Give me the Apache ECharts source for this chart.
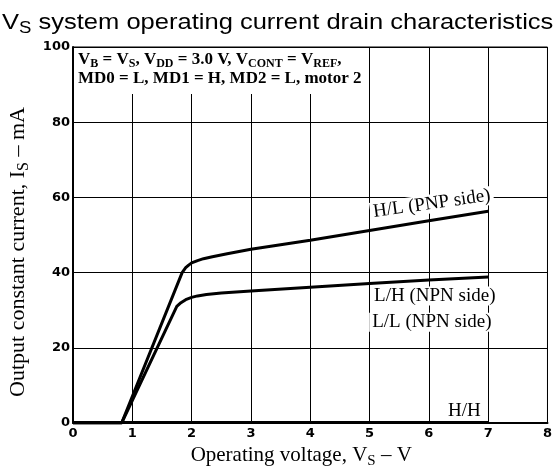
<!DOCTYPE html>
<html>
<head>
<meta charset="utf-8">
<script src="https://cdn.jsdelivr.net/npm/echarts@6/dist/echarts.min.js"></script>
<style>
  html, body { margin: 0; padding: 0; background: #fff; }
  #chart { width: 555px; height: 473px; }
</style>
</head>
<body>
<div id="chart"></div>
<script>
// Operating voltage VS (V) and output constant current IS (mA)
const hlVolts = [0, 0.82, 1.84, 1.9, 1.95, 2.0, 2.1, 2.2, 2.35, 2.6, 3, 4, 5, 6, 7];
const hlCurrent = [0, 0, 40, 41.3, 42.0, 42.6, 43.2, 43.7, 44.2, 45.0, 46.2, 48.6, 51.2, 53.8, 56.3];

const npnVolts = [0, 0.82, 1.75, 1.82, 1.9, 2.0, 2.1, 2.25, 2.5, 3, 4, 5, 6, 7];
const npnCurrent = [0, 0, 31, 32, 32.8, 33.4, 33.8, 34.2, 34.6, 35.1, 36.1, 37.1, 38, 38.8];

const hhVolts = [0, 7];
const hhCurrent = [0.3, 0.3];

const xTicks = [0, 1, 2, 3, 4, 5, 6, 7, 8];
const yTicks = [0, 20, 40, 60, 80, 100];

const pairs = (xs, ys) => xs.map((x, i) => [x, ys[i]]);

const SERIF = '"Liberation Serif", "DejaVu Serif", serif';
const SANS = '"Liberation Sans", Arial, sans-serif';
const TICK_FONT = '"DejaVu Sans", "Liberation Sans", sans-serif';

// rich-text styles: normal run + subscript run
function richSet(size, weight, family) {
  return {
    n: { fontSize: size, fontWeight: weight, fontFamily: family, color: '#000',
         lineHeight: size + 2, verticalAlign: 'top' },
    s: { fontSize: Math.round(size * 0.72), fontWeight: weight, fontFamily: family, color: '#000',
         lineHeight: Math.round(size * 0.72) + 2, padding: [Math.round(size * 0.42), 0, 0, 0],
         verticalAlign: 'top' }
  };
}

const chart = echarts.init(document.getElementById('chart'));

const curveStyle = { color: '#000', width: 3 };

chart.setOption({
  backgroundColor: '#fff',
  animation: false,
  grid: { left: 73, right: 7, top: 47, bottom: 50, show: true, borderColor: '#000', borderWidth: 1 },
  xAxis: {
    type: 'value',
    min: xTicks[0],
    max: xTicks[xTicks.length - 1],
    interval: 1,
    axisLine: { lineStyle: { color: '#000', width: 2 } },
    axisTick: { show: false },
    axisLabel: { color: '#000', fontFamily: TICK_FONT, fontWeight: 'bold', fontSize: 13, margin: 4 },
    splitLine: { show: true, lineStyle: { color: '#000', width: 1 } }
  },
  yAxis: {
    type: 'value',
    min: yTicks[0],
    max: yTicks[yTicks.length - 1],
    interval: 20,
    axisLine: { show: true, lineStyle: { color: '#000', width: 2 } },
    axisTick: { show: false },
    axisLabel: { color: '#000', fontFamily: TICK_FONT, fontWeight: 'bold', fontSize: 13, margin: 3 },
    splitLine: { show: true, lineStyle: { color: '#000', width: 1 } }
  },
  series: [
    { name: 'H/L (PNP side)', type: 'line', data: pairs(hlVolts, hlCurrent), smooth: false,
      symbol: 'none', lineStyle: curveStyle, z: 3 },
    { name: 'L/H, L/L (NPN side)', type: 'line', data: pairs(npnVolts, npnCurrent), smooth: false,
      symbol: 'none', lineStyle: curveStyle, z: 3 },
    { name: 'H/H', type: 'line', data: pairs(hhVolts, hhCurrent),
      symbol: 'none', lineStyle: { color: '#000', width: 1.5 }, z: 3 }
  ]
});

// text labels anchored to axis coordinates
const px = (x, y) => chart.convertToPixel({ gridIndex: 0 }, [x, y]);

function curveLabel(text, at, rotation) {
  const p = px(at[0], at[1]);
  return {
    type: 'text',
    x: p[0], y: p[1],
    rotation: rotation || 0,
    z: 10,
    style: {
      text: text,
      fill: '#000',
      font: '19px ' + SERIF,
      align: 'center',
      verticalAlign: 'middle',
      backgroundColor: '#fff',
      padding: [0, 3, 0, 3]
    }
  };
}

const boxTL = px(0, 100);
const boxBR = px(4.8, 87.5);
const origin = px(0, 0);
const plotEnd = px(8, 100);

chart.setOption({
  graphic: [
    // chart title
    {
      type: 'text', z: 10,
      x: 2, y: 12, scaleX: 1.16,
      style: {
        text: '{n|V}{s|S}{n| system operating current drain characteristics}',
        rich: richSet(22, 'normal', SANS),
        fill: '#000'
      }
    },
    // axis titles
    {
      type: 'text', z: 10,
      x: (origin[0] + plotEnd[0]) / 2 - 9, y: origin[1] + 33,
      style: {
        text: '{n|Operating voltage, V}{s|S}{n| – V}',
        rich: richSet(21, 'normal', SERIF),
        align: 'center', verticalAlign: 'middle', fill: '#000'
      }
    },
    {
      type: 'text', z: 10,
      x: 19, y: (origin[1] + plotEnd[1]) / 2 + 17,
      rotation: Math.PI / 2,
      style: {
        text: '{n|Output constant current, I}{s|S}{n| – mA}',
        rich: richSet(22, 'normal', SERIF),
        align: 'center', verticalAlign: 'middle', fill: '#000'
      }
    },
    // test-condition box
    {
      type: 'rect', z: 9,
      shape: { x: boxTL[0] + 1, y: boxTL[1] + 1, width: boxBR[0] - boxTL[0] - 1, height: boxBR[1] - boxTL[1] - 1 },
      style: { fill: '#fff' }
    },
    {
      type: 'text', z: 10,
      x: boxTL[0] + 5, y: boxTL[1] + 4,
      style: {
        text: '{n|V}{s|B}{n| = V}{s|S}{n|, V}{s|DD}{n| = 3.0 V, V}{s|CONT}{n| = V}{s|REF}{n|,}\n{n|MD0 = L, MD1 = H, MD2 = L, motor 2}',
        rich: richSet(17, 'bold', SERIF),
        fill: '#000'
      }
    },
    curveLabel('H/L (PNP side)', [6.05, 58.3], 0.14),
    curveLabel('L/H (NPN side)', [6.1, 33.8], 0),
    curveLabel('L/L (NPN side)', [6.05, 26.8], 0),
    curveLabel('H/H', [6.6, 3.2], 0)
  ]
});
</script>
</body>
</html>
